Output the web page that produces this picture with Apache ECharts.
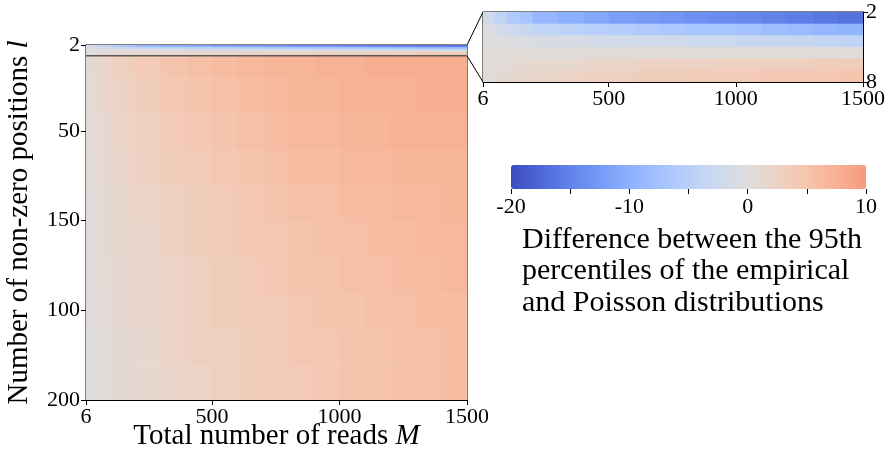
<!DOCTYPE html>
<html>
<head>
<meta charset="utf-8">
<script src="https://cdn.jsdelivr.net/npm/echarts@6/dist/echarts.min.js"></script>
<style>
  html, body { margin: 0; padding: 0; background: #fff; }
  #chart { width: 886px; height: 455px; }
</style>
</head>
<body>
<div id="chart"></div>
<script>
// Column edges along the total number of reads M
const mEdges = [6, 50, 100, 150, 200, 300, 400, 500, 600, 700, 800, 900, 1000, 1100, 1200, 1300, 1400, 1500];

// Rows for small l (2..8), shown in the zoomed panel and at the top of the main panel
const nearLEdges = [2, 3, 4, 5, 6, 7, 8];
const nearValues = [
  [-2, -4, -6, -7, -9, -10, -11, -12, -12.5, -13, -13.5, -14, -14.5, -15, -15.5, -16, -16.5],
  [-0.5, -1.5, -2.5, -3, -4, -4.5, -5, -5.5, -6, -6.5, -7, -7, -7.5, -8, -8.5, -9, -9.5],
  [0, 0, -0.5, -0.5, -1, -1, -1.5, -1.5, -2, -2, -2.5, -2.5, -3, -3, -3, -3.5, -4],
  [0.3, 0.4, 0.5, 0.5, 0.5, 0.5, 0.5, 0.5, 0.5, 0.5, 0.5, 0.5, 0.5, 0.5, 0.5, 0.5, 0.3],
  [0.4, 0.7, 1, 1.2, 1.5, 1.5, 2, 2, 2.5, 2.5, 2.5, 3, 3, 3, 3, 3.5, 3.5],
  [0.6, 1, 1.4, 1.7, 2, 2.5, 3, 3, 3.5, 3.5, 4, 4, 4, 4.5, 4.5, 4.5, 5]
];

// Rows for l from 8 to 200
const farLEdges = [8, 20, 40, 60, 80, 100, 120, 140, 160, 180, 200];
const farValues = [
  [1, 2, 2.8, 3.4, 4, 5, 5.5, 6, 6.5, 7, 7, 7.5, 7.5, 8, 8, 8, 8],
  [0.8, 1.7, 2.4, 3, 3.5, 4.5, 5, 5.5, 6, 6.5, 7, 7, 7.5, 7.5, 7.5, 8, 8],
  [0.7, 1.4, 2, 2.5, 3, 4, 4.5, 5, 5.5, 6, 6.5, 6.5, 7, 7, 7.5, 7.5, 7.5],
  [0.6, 1.2, 1.8, 2.3, 3, 3.5, 4, 4.5, 5, 5.5, 6, 6, 6.5, 6.5, 7, 7, 7],
  [0.5, 1, 1.5, 2, 2.5, 3, 3.5, 4, 4.5, 5, 5.5, 5.5, 6, 6, 6.5, 6.5, 7],
  [0.5, 0.9, 1.4, 1.8, 2, 3, 3.5, 4, 4.5, 4.5, 5, 5.5, 5.5, 6, 6, 6.5, 6.5],
  [0.4, 0.8, 1.2, 1.6, 2, 2.5, 3, 3.5, 4, 4.5, 5, 5, 5.5, 5.5, 6, 6, 6.5],
  [0.4, 0.7, 1.1, 1.5, 2, 2.5, 3, 3.5, 4, 4, 4.5, 5, 5, 5.5, 5.5, 6, 6],
  [0.3, 0.7, 1, 1.3, 1.5, 2.5, 3, 3, 3.5, 4, 4.5, 4.5, 5, 5, 5.5, 5.5, 6],
  [0.3, 0.6, 1, 1.2, 1.5, 2, 2.5, 3, 3.5, 4, 4, 4.5, 5, 5, 5.5, 5.5, 6]
];

// Tick positions and their printed labels
const xTickValues = [6, 500, 1000, 1500];
const yTickValues = [2, 50, 100, 150, 200];
const yTickLabels = ['2', '50', '150', '100', '200'];
const nearYTickValues = [2, 8];
const cbTickValues = [-20, -10, 0, 10];
const cbMin = -20, cbMax = 10;

// coolwarm colour ramp from its blue end up to three quarters of the way
const coolwarm = [
  '#3b4cc0', '#445acc', '#4d68d7', '#5775e1', '#6282ea', '#6c8ef1', '#779af7', '#82a5fb',
  '#8db0fe', '#98b9ff', '#a3c2ff', '#aec9fd', '#b8d0f9', '#c2d5f4', '#ccd9ee', '#d5dbe6',
  '#dddddd', '#e5d8d1', '#ecd3c5', '#f1ccb9', '#f5c4ad', '#f7bba0', '#f7b194', '#f7a687',
  '#f49a7b'
];

function cells(lEdges, values) {
  const out = [];
  values.forEach((row, r) => {
    row.forEach((v, c) => {
      out.push([mEdges[c], mEdges[c + 1], lEdges[r], lEdges[r + 1], v]);
    });
  });
  return out;
}

const nearCells = cells(nearLEdges, nearValues);
const farCells = cells(farLEdges, farValues);

function renderCell(params, api) {
  const p0 = api.coord([api.value(0), api.value(2)]);
  const p1 = api.coord([api.value(1), api.value(3)]);
  const x = Math.min(p0[0], p1[0]);
  const y = Math.min(p0[1], p1[1]);
  return {
    type: 'rect',
    shape: { x: x, y: y, width: Math.abs(p1[0] - p0[0]) + 0.6, height: Math.abs(p1[1] - p0[1]) + 0.6 },
    style: { fill: api.visual('color') }
  };
}

const FONT = "'Liberation Serif', 'DejaVu Serif', serif";
const black = '#000';
const plain = function (v) { return String(v); };

const chart = echarts.init(document.getElementById('chart'), null, { renderer: 'canvas' });

const titleRich = {
  r: { fontFamily: FONT, fontSize: 29, color: black },
  i: { fontFamily: FONT, fontSize: 29, fontStyle: 'italic', color: black }
};

const option = {
  animation: false,
  backgroundColor: '#fff',
  textStyle: { fontFamily: FONT },
  grid: [
    { left: 86, top: 45, width: 381, height: 355, show: true, borderColor: black, borderWidth: 1, backgroundColor: 'transparent', outerBoundsMode: 'none', containLabel: false },
    { left: 483, top: 12, width: 380, height: 70, show: true, borderColor: black, borderWidth: 1, backgroundColor: 'transparent', outerBoundsMode: 'none', containLabel: false },
    { left: 511, top: 165, width: 355, height: 24, show: false, outerBoundsMode: 'none', containLabel: false }
  ],
  xAxis: [
    {
      gridIndex: 0, type: 'value', min: mEdges[0], max: mEdges[mEdges.length - 1],
      name: '{r|Total number of reads }{i|M}', nameLocation: 'middle', nameGap: 22, nameMoveOverlap: false,
      nameTextStyle: { rich: titleRich, verticalAlign: 'top' },
      axisLine: { show: true, lineStyle: { color: black, width: 1 } },
      axisTick: { show: true, customValues: xTickValues, length: 5, lineStyle: { color: black } },
      axisLabel: { customValues: xTickValues, fontFamily: FONT, fontSize: 22, color: black, margin: 6, formatter: plain },
      splitLine: { show: false }
    },
    {
      gridIndex: 1, type: 'value', min: mEdges[0], max: mEdges[mEdges.length - 1],
      axisLine: { show: true, lineStyle: { color: black, width: 1 } },
      axisTick: { show: true, customValues: xTickValues, length: 5, lineStyle: { color: black } },
      axisLabel: { customValues: xTickValues, fontFamily: FONT, fontSize: 22, color: black, margin: 6, formatter: plain },
      splitLine: { show: false }
    },
    {
      gridIndex: 2, type: 'value', min: cbMin, max: cbMax, interval: 5,
      axisLine: { show: false },
      axisTick: { show: true, length: 5, lineStyle: { color: black } },
      axisLabel: { customValues: cbTickValues, fontFamily: FONT, fontSize: 22, color: black, margin: 7, formatter: plain },
      splitLine: { show: false }
    }
  ],
  yAxis: [
    {
      gridIndex: 0, type: 'value', inverse: true, min: nearLEdges[0], max: farLEdges[farLEdges.length - 1],
      name: '{r|Number of non-zero positions }{i|l}', nameLocation: 'middle', nameGap: 52,
      nameTextStyle: { rich: titleRich },
      axisLine: { show: true, lineStyle: { color: black, width: 1 } },
      axisTick: { show: true, customValues: yTickValues, length: 5, lineStyle: { color: black } },
      axisLabel: {
        customValues: yTickValues, fontFamily: FONT, fontSize: 22, color: black, margin: 6,
        formatter: function (v) { return yTickLabels[yTickValues.indexOf(v)]; }
      },
      splitLine: { show: false }
    },
    {
      gridIndex: 1, type: 'value', inverse: true, position: 'right',
      min: nearLEdges[0], max: nearLEdges[nearLEdges.length - 1],
      axisLine: { show: true, lineStyle: { color: black, width: 1 } },
      axisTick: { show: true, customValues: nearYTickValues, length: 5, lineStyle: { color: black } },
      axisLabel: { customValues: nearYTickValues, fontFamily: FONT, fontSize: 22, color: black, margin: 3, formatter: plain },
      splitLine: { show: false }
    },
    { gridIndex: 2, type: 'value', show: false, min: 0, max: 1 }
  ],
  visualMap: {
    type: 'continuous',
    min: cbMin, max: cbMax,
    dimension: 4,
    seriesIndex: [0, 1, 2],
    orient: 'horizontal',
    left: 511, top: 165,
    itemWidth: 24, itemHeight: 355,
    padding: 0,
    calculable: false,
    hoverLink: false,
    realtime: false,
    text: null,
    inRange: { color: coolwarm }
  },
  series: [
    {
      type: 'custom', name: 'main-near', xAxisIndex: 0, yAxisIndex: 0, clip: true, silent: true,
      renderItem: renderCell, encode: { x: [0, 1], y: [2, 3] }, data: nearCells
    },
    {
      type: 'custom', name: 'main-far', xAxisIndex: 0, yAxisIndex: 0, clip: true, silent: true,
      renderItem: renderCell, encode: { x: [0, 1], y: [2, 3] }, data: farCells
    },
    {
      type: 'custom', name: 'zoom', xAxisIndex: 1, yAxisIndex: 1, clip: true, silent: true,
      renderItem: renderCell, encode: { x: [0, 1], y: [2, 3] }, data: nearCells
    },
    {
      type: 'line', name: 'zoom-edge', xAxisIndex: 0, yAxisIndex: 0, silent: true, symbol: 'none',
      lineStyle: { color: '#5a5a5a', width: 1.6 }, z: 5,
      data: [[mEdges[0], nearLEdges[nearLEdges.length - 1]], [mEdges[mEdges.length - 1], nearLEdges[nearLEdges.length - 1]]]
    }
  ],
  graphic: [
    {
      type: 'text', left: 522, top: 224, silent: true,
      style: {
        text: 'Difference between the 95th\npercentiles of the empirical\nand Poisson distributions',
        font: '30px ' + FONT, fill: black, lineHeight: 31.5
      }
    }
  ]
};

chart.setOption(option);

// Connector lines from the zoomed band of the main panel to the zoom panel
const lTop = nearLEdges[0], lBot = nearLEdges[nearLEdges.length - 1];
const mRight = mEdges[mEdges.length - 1], mLeft = mEdges[0];
const a1 = chart.convertToPixel({ gridIndex: 0 }, [mRight, lTop]);
const a2 = chart.convertToPixel({ gridIndex: 0 }, [mRight, lBot]);
const b1 = chart.convertToPixel({ gridIndex: 1 }, [mLeft, lTop]);
const b2 = chart.convertToPixel({ gridIndex: 1 }, [mLeft, lBot]);
chart.setOption({
  graphic: [
    option.graphic[0],
    { type: 'line', silent: true, shape: { x1: a1[0], y1: a1[1], x2: b1[0], y2: b1[1] }, style: { stroke: black, lineWidth: 1 } },
    { type: 'line', silent: true, shape: { x1: a2[0], y1: a2[1], x2: b2[0], y2: b2[1] }, style: { stroke: black, lineWidth: 1 } }
  ]
});
</script>
</body>
</html>
